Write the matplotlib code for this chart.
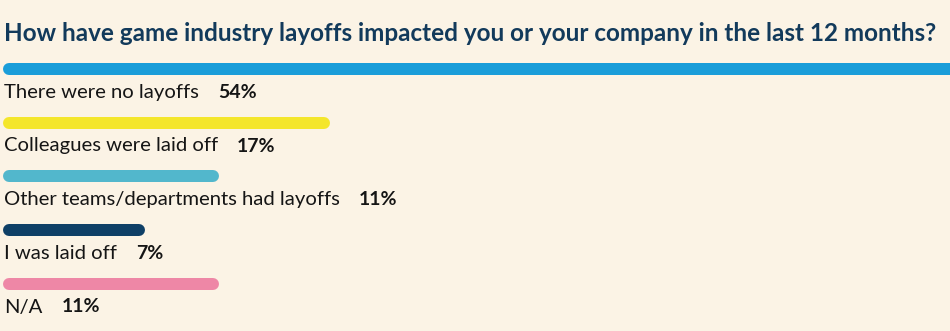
import matplotlib
matplotlib.use("Agg")
import matplotlib.pyplot as plt

categories = ["There were no layoffs", "Colleagues were laid off",
              "Other teams/departments had layoffs", "I was laid off", "N/A"]
values = [54, 17, 11, 7, 11]
pct_labels = ["54%", "17%", "11%", "7%", "11%"]
colors = ["#1a9dd9", "#f4e62b", "#52b7cc", "#0e3f66", "#ee87a6"]
title = "How have game industry layoffs impacted you or your company in the last 12 months?"

W, H, DPI = 950, 331, 100
BG = "#fbf3e5"
fig = plt.figure(figsize=(W / DPI, H / DPI), dpi=DPI, facecolor=BG)
ax = fig.add_axes([0, 0, 1, 1])
ax.set_facecolor(BG)
ax.axis("off")

# x axis in percent: 0% at 9 px, 18.5 px per percent
scale = 18.5
x0px = 9
ax.set_xlim(-x0px / scale, (W - x0px) / scale)
# y axis in pixel rows (top = 0)
ax.set_ylim(H, 0)

bar_y = [69, 122.5, 176, 230, 283.5]
lw_pt = 12 * 72 / DPI
font = "Lato"

ax.text(-5 / scale, 41, title, fontsize=17.5, fontweight="bold", color="#123a5b",
        family=font, va="baseline", ha="left")

fig.canvas.draw()
renderer = fig.canvas.get_renderer()
inv = ax.transData.inverted()

for cat, v, p, c, y in zip(categories, values, pct_labels, colors, bar_y):
    ax.plot([0, v], [y, y], color=c, lw=lw_pt, solid_capstyle="round")
    t = ax.text(-5 / scale, y + 29, cat, fontsize=14.6, color="#151515", family=font,
                va="baseline", ha="left")
    bb = t.get_window_extent(renderer=renderer)
    xend = inv.transform((bb.x1, bb.y0))[0]
    ax.text(xend + 19 / scale, y + 29, p, fontsize=14, fontweight="bold",
            color="#151515", family=font, va="baseline", ha="left")

fig.savefig("out.png", dpi=DPI, facecolor=BG)
